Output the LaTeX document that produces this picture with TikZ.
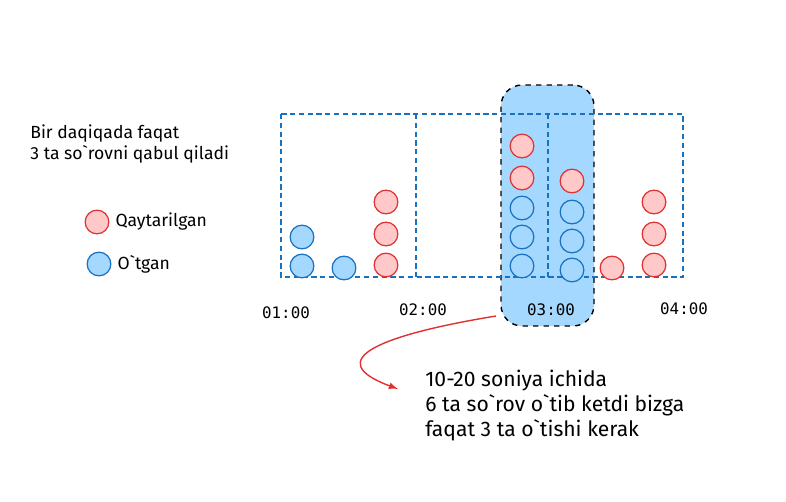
\documentclass[tikz,border=0pt]{standalone}
\usepackage{fontspec}
\setmainfont{Fira Sans}
\setmonofont{DejaVu Sans Mono}
\usetikzlibrary{positioning,calc,arrows}
\definecolor{pblue}{HTML}{1971C2}
\definecolor{pbluefill}{HTML}{A5D8FF}
\definecolor{pred}{HTML}{E03131}
\definecolor{predfill}{HTML}{FFC9C9}
\newcommand{\bq}{\textasciigrave}
\begin{document}
\begin{tikzpicture}
	[   x=0.02cm,y=-0.02cm,
	    bnode/.style={draw=pblue,fill=pbluefill,line width=0.7pt,circle,minimum size=13.5pt,inner sep=0pt},
	    rnode/.style={draw=pred,fill=predfill,line width=0.7pt,circle,minimum size=13.5pt,inner sep=0pt},
	    tlabel/.style={font=\ttfamily\small},
	    note/.style={font=\normalsize,align=left,anchor=north west,inner sep=0pt},
	]
	\useasboundingbox (0,0) rectangle (786,501);
	\tikzset{win/.style={draw=pblue,dash pattern=on 3pt off 2pt,line width=0.6pt}}
	% highlighted window
	\node[draw=black,dashed,line width=0.8pt,fill=pbluefill,rounded corners=12pt,
	      minimum width=93*0.02cm,minimum height=241*0.02cm] (hl) at (547.5,205.5) {};
	% minute windows
	\draw[win] (281,114) rectangle (683,277);
	\draw[win] (416,114) -- (416,277);
	\draw[win] (548,114) -- (548,277);

	\node[tlabel] (t-1) at (286,313) {01:00};
	\node[tlabel] (t-2) at (423,310) {02:00};
	\node[tlabel] (t-3) at (551,310) {03:00};
	\node[tlabel] (t-4) at (684,309) {04:00};

	% requests
	\node[bnode] (a-1) at (302,237) {};
	\node[bnode] (a-2) at (302,266) {};
	\node[bnode] (a-3) at (344,268) {};
	\node[rnode] (a-4) at (386,202) {};
	\node[rnode] (a-5) at (386,234) {};
	\node[rnode] (a-6) at (386,265) {};

	\node[rnode] (b-1) at (522,146) {};
	\node[rnode] (b-2) at (522,178) {};
	\node[bnode] (b-3) at (522,208) {};
	\node[bnode] (b-4) at (522,237) {};
	\node[bnode] (b-5) at (522,266) {};

	\node[rnode] (c-1) at (572,181) {};
	\node[bnode] (c-2) at (572,212) {};
	\node[bnode] (c-3) at (572,241) {};
	\node[bnode] (c-4) at (572,270) {};

	\node[rnode] (d-1) at (612,268) {};
	\node[rnode] (d-2) at (654,202) {};
	\node[rnode] (d-3) at (654,234) {};
	\node[rnode] (d-4) at (654,265) {};

	% legend
	\node[note] (info) at (30,124) {Bir daqiqada faqat\\3 ta so\bq rovni qabul qiladi};
	\node[rnode,label={[font=\normalsize]0:Qaytarilgan}] (l-1) at (97,222) {};
	\node[bnode,label={[font=\normalsize]0:O\bq tgan}] (l-2) at (99,264) {};

	% note
	\node[note,font=\large] (n) at (425,370) {10-20 soniya ichida\\6 ta so\bq rov o\bq tib ketdi bizga\\faqat 3 ta o\bq tishi kerak};
	\coordinate (s) at (496,316);
	\coordinate (e) at (398,389);
	\draw[pred,line width=0.8pt,-latex] (s) .. controls (380,335) and (320,360) .. (e);
\end{tikzpicture}
\end{document}
